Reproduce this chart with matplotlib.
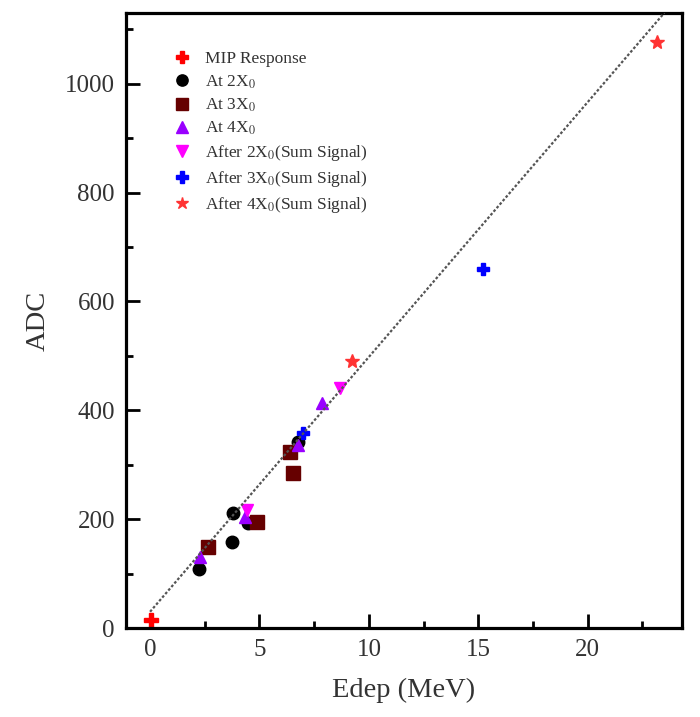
import matplotlib

matplotlib.use("Agg")
import matplotlib.pyplot as plt
from matplotlib.ticker import MultipleLocator

plt.rcParams["font.family"] = ["Liberation Serif", "DejaVu Serif"]
plt.rcParams["mathtext.fontset"] = "stix"

# data (Edep in MeV, ADC counts)
mip_x = [0.05]
mip_y = [15]
at2_x = [2.24, 3.74, 3.79, 4.47, 6.40, 6.76]
at2_y = [108, 158, 211, 193, 323, 342]
at3_x = [2.65, 4.89, 6.39, 6.53]
at3_y = [149, 195, 323, 284]
at4_x = [2.28, 4.34, 6.76, 7.85]
at4_y = [130, 204, 336, 413]
after2_x = [4.43, 8.68]
after2_y = [217, 441]
after3_x = [6.99, 15.2]
after3_y = [358, 659]
after4_x = [9.25, 23.15]
after4_y = [490, 1077]
fit_x = [0.0, 23.5]
fit_y = [30, 1130]

fig = plt.figure(figsize=(7.0, 7.17), dpi=100)
ax = fig.add_axes([0.18, 0.124, 0.794, 0.858])

ax.plot(at2_x, at2_y, "o", color="black", ms=9, ls="none", label="At 2X$_0$")
ax.plot(at3_x, at3_y, "s", color="#660000", ms=10, ls="none", label="At 3X$_0$")
ax.plot(at4_x, at4_y, "^", color="#9900ff", ms=9, ls="none", label="At 4X$_0$")
ax.plot(after2_x, after2_y, "v", color="#ff00ff", ms=9, ls="none",
        label="After 2X$_0$(Sum Signal)")
ax.plot(after3_x, after3_y, "P", color="#0000ff", ms=9, ls="none",
        label="After 3X$_0$(Sum Signal)")
ax.plot(after4_x, after4_y, "*", color="#ff3333", ms=10, ls="none",
        label="After 4X$_0$(Sum Signal)")
ax.plot(mip_x, mip_y, "P", color="#ff0000", ms=10, ls="none", label="MIP Response")
# linear fit, dense dotted
ax.plot(fit_x, fit_y, ls=(0, (1.2, 0.9)), color="#555555", lw=1.6, zorder=3)

ax.set_xlim(-1.1, 24.3)
ax.set_ylim(0, 1130)
ax.xaxis.set_major_locator(MultipleLocator(5))
ax.xaxis.set_minor_locator(MultipleLocator(2.5))
ax.yaxis.set_major_locator(MultipleLocator(200))
ax.yaxis.set_minor_locator(MultipleLocator(100))
ax.tick_params(which="both", direction="in", width=2, labelsize=18,
               labelcolor="#333333", pad=8)
ax.tick_params(which="major", length=10)
ax.tick_params(which="minor", length=5)
for s in ax.spines.values():
    s.set_linewidth(2.3)

ax.set_xlabel("Edep (MeV)", fontsize=20.5, color="#333333", labelpad=12)
ax.set_ylabel("ADC", fontsize=20.5, color="#333333", labelpad=10)

h, l = ax.get_legend_handles_labels()
order = [6, 0, 1, 2, 3, 4, 5]
ax.legend([h[i] for i in order], [l[i] for i in order], loc="upper left",
          bbox_to_anchor=(0.057, 0.963), frameon=False, fontsize=12.5,
          markerscale=0.9, handletextpad=0.85, labelspacing=0.34,
          handlelength=1.0, labelcolor="#333333")

fig.savefig("out.png", dpi=100)
